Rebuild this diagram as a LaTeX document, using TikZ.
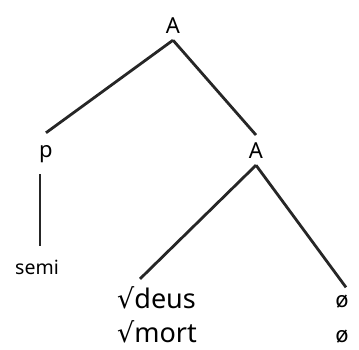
\documentclass[tikz,border=0pt]{standalone}
\usepackage{fontspec}
\setmainfont{Noto Sans}
\newfontfamily\rootfont{DejaVu Sans}
\newcommand{\rt}{{\rootfont √}}
\begin{document}
\begin{tikzpicture}[
  x=1pt, y=1pt,
  cat/.style={inner sep=7pt, anchor=base, font=\fontsize{22}{26}\selectfont},
  leaf/.style={inner sep=7pt, anchor=base west, font=\fontsize{27}{31}\selectfont},
  gloss/.style={inner sep=13pt, anchor=base, font=\fontsize{19.5}{23}\selectfont},
  branch/.style={line width=2.8pt, black!85}
]
  \useasboundingbox (0,0) rectangle (359,349);

  % Upper part
  \node[cat] (top) at (173, 316) {A};
  \node[cat, inner sep=12pt] (prt) at (46, 192) {p};
  \node[cat] (adj) at (256, 191) {A};
  \draw[branch] (top.south) -- (prt.north);
  \draw[branch] (top.south) -- (adj.north);

  % Left branch
  \node[gloss] (semi) at (37, 75) {semi};
  \draw[branch] ([xshift=-6pt]prt.south) -- ([xshift=-6pt]prt.south |- semi.north);

  % Roots and zero suffixes
  \node[leaf] (deus) at (110, 41) {\rt deus};
  \node[leaf, inner sep=1pt] (mort) at (116, 7) {\rt mort};
  \node[cat] (nul1) at (342, 42) {ø};
  \node[cat, inner sep=1pt] (nul2) at (342, 7) {ø};
  \draw[branch] (adj.south) -- ([xshift=30pt]deus.north west);
  \draw[branch] (adj.south) -- ([xshift=4pt]nul1.north);
\end{tikzpicture}
\end{document}
